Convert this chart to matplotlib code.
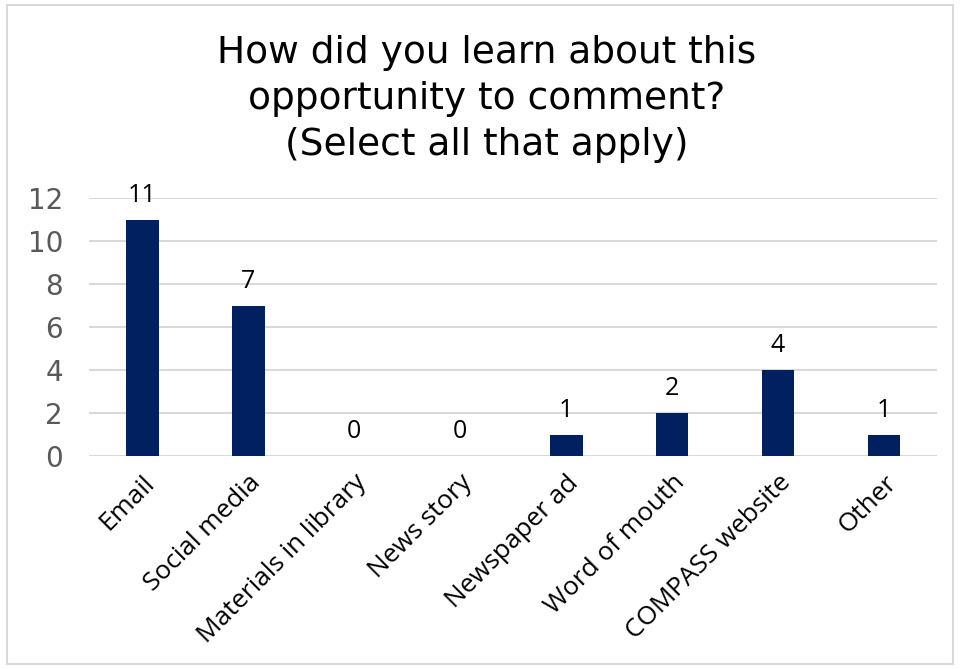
import matplotlib
matplotlib.use("Agg")
import matplotlib.pyplot as plt
from matplotlib.patches import Rectangle

categories = ["Email", "Social media", "Materials in library", "News story",
              "Newspaper ad", "Word of mouth", "COMPASS website", "Other"]
counts = [11, 7, 0, 0, 1, 2, 4, 1]
yticks = [0, 2, 4, 6, 8, 10, 12]

bar_color = "#002060"
grid_color = "#d9d9d9"

fig = plt.figure(figsize=(9.6, 6.69), dpi=100)
ax = fig.add_axes([0.093, 0.318, 0.883, 0.386])

x = range(len(categories))
bars = ax.bar(x, counts, width=0.31, color=bar_color, zorder=3)

for xi, v in zip(x, counts):
    ax.text(xi, v + 0.55, str(v), ha="center", va="bottom",
            fontsize=18, family="Open Sans", color="black")

ax.set_ylim(0, 12)
ax.set_xlim(-0.5, len(categories) - 0.5)
ax.set_yticks(yticks)
ax.set_yticklabels([str(t) for t in yticks], fontsize=20, color="#595959")
ax.yaxis.grid(True, color=grid_color, linewidth=1.5, zorder=0)
ax.tick_params(axis="both", length=0)
ax.tick_params(axis="y", pad=19)
ax.set_xticks(list(x))
ax.set_xticklabels(categories, rotation=45, ha="right", rotation_mode="anchor",
                   fontsize=18.8, family="Open Sans")
ax.tick_params(axis="x", pad=10)
for s in ax.spines.values():
    s.set_visible(False)

fig.text(0.507, 0.947, "How did you learn about this\nopportunity to comment?\n(Select all that apply)",
         ha="center", va="top", fontsize=27, linespacing=1.35)

fig.patches.append(Rectangle((0.007, 0.007), 0.986, 0.985, transform=fig.transFigure,
                             fill=False, edgecolor=grid_color, linewidth=1.5))

fig.savefig("out.png", dpi=100)
